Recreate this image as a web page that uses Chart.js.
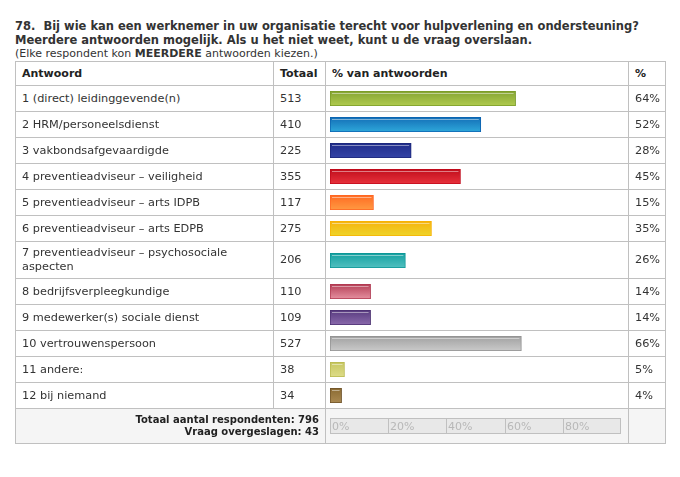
<!DOCTYPE html>
<html>
<head>
<meta charset="utf-8">
<script src="https://cdn.jsdelivr.net/npm/chart.js@4/dist/chart.umd.min.js"></script>
<style>
  html, body { margin:0; padding:0; background:#fff; }
  body { width:680px; height:477px; position:relative; overflow:hidden; font-family:"DejaVu Sans", Verdana, sans-serif; color:#333; }
  #title { position:absolute; left:15px; top:19px; font-weight:bold; font-size:11.5px; line-height:14px; color:#333; white-space:nowrap; }
  #subtitle { position:absolute; left:15px; top:47px; font-size:11px; line-height:13px; color:#333; white-space:nowrap; }
  #tbl { position:absolute; left:15px; top:61px; border-collapse:collapse; table-layout:fixed; width:650px; font-size:11.3px; line-height:14px; }
  #tbl td, #tbl th { border:1px solid #c0c0c0; padding:4px 6px; vertical-align:middle; text-align:left; }
  #tbl th { font-weight:bold; font-size:11px; height:15px; background:#fff; color:#222; }
  #tbl td { height:17px; color:#333; }
  #tbl td.bar { padding:0 0 0 4px; }
  #tbl tr.foot td { background:#f5f5f5; height:26px; }
  #tbl td.foottext { text-align:right; font-weight:bold; font-size:10px; line-height:12px; color:#222; padding:4px 6px; }
  canvas { display:block; }
</style>
</head>
<body>
<div id="title"></div>
<div id="subtitle"></div>
<table id="tbl">
  <colgroup><col style="width:258px"><col style="width:52px"><col style="width:303px"><col style="width:37px"></colgroup>
  <thead><tr id="headrow"></tr></thead>
  <tbody id="body"></tbody>
</table>
<script>
const questionLines = [
  "78.\u00a0 Bij wie kan een werknemer in uw organisatie terecht voor hulpverlening en ondersteuning?",
  "Meerdere antwoorden mogelijk. Als u het niet weet, kunt u de vraag overslaan."
];
const subtitleParts = ["(Elke respondent kon ", "MEERDERE", " antwoorden kiezen.)"];
const headers = ["Antwoord", "Totaal", "% van antwoorden", "%"];
const categories = [
  "1 (direct) leidinggevende(n)",
  "2 HRM/personeelsdienst",
  "3 vakbondsafgevaardigde",
  "4 preventieadviseur \u2013 veiligheid",
  "5 preventieadviseur \u2013 arts IDPB",
  "6 preventieadviseur \u2013 arts EDPB",
  "7 preventieadviseur \u2013 psychosociale aspecten",
  "8 bedrijfsverpleegkundige",
  "9 medewerker(s) sociale dienst",
  "10 vertrouwenspersoon",
  "11 andere:",
  "12 bij niemand"
];
const totals = [513, 410, 225, 355, 117, 275, 206, 110, 109, 527, 38, 34];
const percents = [64, 52, 28, 45, 15, 35, 26, 14, 14, 66, 5, 4];
const axisTicks = [0, 20, 40, 60, 80];
const respondents = 796;
const skipped = 43;

// styles (kept apart from the data)
const barTop    = ["#84a332", "#136db6", "#1f2d8a", "#bf0d1b", "#ff6a22", "#f6b20e", "#14a0a0", "#b43e55", "#573a7e", "#a0a0a0", "#c6c660", "#8a6a32"];
const barBottom = ["#b0cb4e", "#2ea8da", "#3443a6", "#e8323c", "#ff9a42", "#eed52a", "#52c0c0", "#e590a0", "#8a6aac", "#cacaca", "#dedc88", "#ab8a52"];
const barBorder = ["#789a26", "#0b62b0", "#1b2678", "#c0081a", "#ff6422", "#f8b000", "#0a9494", "#b03850", "#4a2f70", "#909090", "#b8b84e", "#6e5228"];

document.getElementById('title').innerHTML = questionLines.join('<br>');
document.getElementById('subtitle').innerHTML = subtitleParts[0] + '<b>' + subtitleParts[1] + '</b>' + subtitleParts[2];

const headrow = document.getElementById('headrow');
headers.forEach(h => { const th = document.createElement('th'); th.textContent = h; headrow.appendChild(th); });

const tbody = document.getElementById('body');
const barCanvases = [];
categories.forEach((cat, i) => {
  const tr = document.createElement('tr');
  const td1 = document.createElement('td'); td1.textContent = cat;
  const td2 = document.createElement('td'); td2.textContent = totals[i];
  const td3 = document.createElement('td'); td3.className = 'bar';
  const cv = document.createElement('canvas'); cv.width = 290; cv.height = 15;
  td3.appendChild(cv); barCanvases.push(cv);
  const td4 = document.createElement('td'); td4.textContent = percents[i] + '%';
  tr.append(td1, td2, td3, td4);
  tbody.appendChild(tr);
});
const foot = document.createElement('tr'); foot.className = 'foot';
const f1 = document.createElement('td'); f1.colSpan = 2; f1.className = 'foottext';
f1.innerHTML = 'Totaal aantal respondenten: ' + respondents + '<br>Vraag overgeslagen: ' + skipped;
const f3 = document.createElement('td'); f3.className = 'bar';
const axisCanvas = document.createElement('canvas'); axisCanvas.width = 291; axisCanvas.height = 16;
f3.appendChild(axisCanvas);
const f4 = document.createElement('td');
foot.append(f1, f3, f4);
tbody.appendChild(foot);

const glossPlugin = {
  id: 'gloss',
  afterDatasetsDraw(chart) {
    const ctx = chart.ctx;
    chart.getDatasetMeta(0).data.forEach(bar => {
      const p = bar.getProps(['x', 'y', 'base', 'height'], true);
      const top = p.y - p.height / 2;
      const x0 = Math.min(p.base, p.x), x1 = Math.max(p.base, p.x);
      ctx.save();
      ctx.strokeStyle = 'rgba(255,255,255,0.45)';
      ctx.lineWidth = 1;
      ctx.beginPath();
      ctx.moveTo(x0 + 2, Math.round(top) + 2.5);
      ctx.lineTo(x1 - 2, Math.round(top) + 2.5);
      ctx.stroke();
      ctx.restore();
    });
  }
};

barCanvases.forEach((cv, i) => {
  new Chart(cv, {
    type: 'bar',
    data: {
      labels: [categories[i]],
      datasets: [{
        data: [percents[i]],
        backgroundColor: (c) => {
          const area = c.chart.chartArea;
          if (!area) return barTop[i];
          const g = c.chart.ctx.createLinearGradient(0, area.top, 0, area.bottom);
          g.addColorStop(0, barTop[i]);
          g.addColorStop(1, barBottom[i]);
          return g;
        },
        borderColor: barBorder[i],
        borderWidth: 1,
        borderSkipped: false,
        barPercentage: 1,
        categoryPercentage: 1
      }]
    },
    options: {
      indexAxis: 'y',
      responsive: false,
      animation: false,
      devicePixelRatio: 1,
      layout: { padding: 0 },
      scales: {
        x: { type: 'linear', min: 0, max: 100, display: false },
        y: { display: false }
      },
      plugins: { legend: { display: false }, tooltip: { enabled: false } }
    },
    plugins: [glossPlugin]
  });
});

const axisPlugin = {
  id: 'axisBox',
  beforeDraw(chart) {
    const ctx = chart.ctx;
    const a = chart.chartArea;
    const xs = chart.scales.x;
    ctx.save();
    ctx.fillStyle = '#e8e8e8';
    ctx.fillRect(a.left, a.top, a.right - a.left, a.bottom - a.top);
    ctx.strokeStyle = '#c0c0c0';
    ctx.lineWidth = 1;
    ctx.strokeRect(a.left + 0.5, a.top + 0.5, a.right - a.left - 1, a.bottom - a.top - 1);
    ctx.font = '11px "DejaVu Sans"';
    ctx.fillStyle = '#b8b8b8';
    ctx.textBaseline = 'middle';
    axisTicks.forEach(v => {
      const px = Math.round(xs.getPixelForValue(v));
      if (v > 0) {
        ctx.beginPath();
        ctx.moveTo(px + 0.5, a.top);
        ctx.lineTo(px + 0.5, a.bottom);
        ctx.stroke();
      }
      ctx.fillText(v + '%', px + 2, (a.top + a.bottom) / 2 + 1);
    });
    ctx.restore();
  }
};
new Chart(axisCanvas, {
  type: 'bar',
  data: { labels: [''], datasets: [{ data: [0] }] },
  options: {
    indexAxis: 'y',
    responsive: false,
    animation: false,
    devicePixelRatio: 1,
    layout: { padding: 0 },
    scales: {
      x: { type: 'linear', min: 0, max: 100, display: false },
      y: { display: false }
    },
    plugins: { legend: { display: false }, tooltip: { enabled: false } }
  },
  plugins: [axisPlugin]
});
</script>
</body>
</html>
